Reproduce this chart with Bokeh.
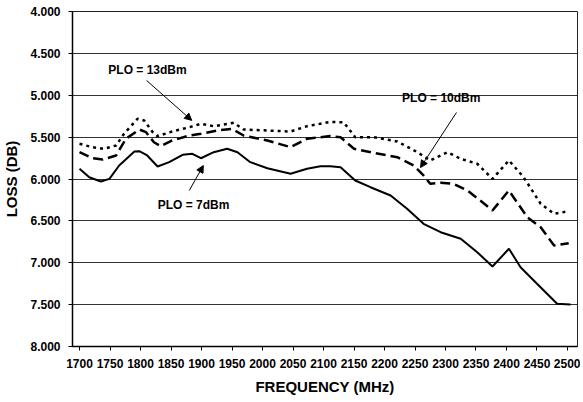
from bokeh.plotting import figure
from bokeh.models import Range1d, FixedTicker, NumeralTickFormatter, Arrow, NormalHead, Label
from bokeh.embed import file_html
from bokeh.resources import INLINE

# PLO = 7 dBm (solid)
f7 = [1700, 1716, 1735, 1749, 1765, 1790, 1798, 1811, 1828, 1847, 1869, 1885, 1899, 1920, 1942, 1959, 1980,
      2008, 2046, 2073, 2095, 2111, 2128, 2152, 2177, 2210, 2237, 2264, 2292, 2325, 2352, 2377, 2404, 2423,
      2450, 2483, 2505]
l7 = [5.878, 5.979, 6.030, 5.998, 5.839, 5.672, 5.668, 5.719, 5.851, 5.799, 5.711, 5.699, 5.752, 5.680, 5.639,
      5.680, 5.799, 5.871, 5.938, 5.878, 5.847, 5.847, 5.859, 6.018, 6.098, 6.197, 6.356, 6.535, 6.635, 6.714,
      6.874, 7.045, 6.833, 7.053, 7.251, 7.490, 7.499]
# PLO = 10 dBm (dashed)
f10 = [1700, 1721, 1738, 1760, 1776, 1798, 1809, 1822, 1833, 1852, 1880, 1899, 1926, 1950, 1969, 2008, 2046,
       2073, 2111, 2128, 2150, 2182, 2221, 2248, 2264, 2275, 2292, 2313, 2336, 2357, 2377, 2404, 2434, 2456,
       2478, 2502]
l10 = [5.680, 5.752, 5.767, 5.719, 5.520, 5.409, 5.441, 5.561, 5.608, 5.540, 5.481, 5.460, 5.421, 5.401, 5.481,
       5.540, 5.620, 5.520, 5.487, 5.501, 5.639, 5.687, 5.740, 5.839, 5.958, 6.057, 6.045, 6.057, 6.137, 6.257,
       6.376, 6.137, 6.456, 6.576, 6.794, 6.767]
# PLO = 13 dBm (dotted)
f13 = [1700, 1721, 1740, 1760, 1773, 1795, 1806, 1820, 1828, 1852, 1880, 1899, 1920, 1953, 1969, 2008, 2046,
       2073, 2111, 2133, 2152, 2182, 2221, 2254, 2275, 2303, 2325, 2352, 2377, 2404, 2428, 2456, 2478, 2502]
l13 = [5.580, 5.620, 5.639, 5.600, 5.460, 5.281, 5.301, 5.441, 5.489, 5.433, 5.382, 5.341, 5.370, 5.329, 5.409,
       5.421, 5.433, 5.370, 5.319, 5.322, 5.501, 5.501, 5.552, 5.680, 5.779, 5.680, 5.759, 5.818, 5.998, 5.779,
       5.978, 6.296, 6.416, 6.385]

x_ticks = list(range(1700, 2501, 50))
y_ticks = [4.0, 4.5, 5.0, 5.5, 6.0, 6.5, 7.0, 7.5, 8.0]

FONT = "Liberation Sans"

p = figure(width=580, height=398, output_backend="svg", toolbar_location=None,
           x_range=Range1d(1688.5, 2516.4), y_range=Range1d(8.0, 4.0),
           min_border_left=72, min_border_right=3, min_border_top=11, min_border_bottom=52)
p.background_fill_color = "white"
p.border_fill_color = "white"
p.outline_line_color = "#222222"
p.outline_line_width = 1

p.xgrid.grid_line_color = None
p.ygrid.grid_line_color = "#333333"
p.ygrid.grid_line_width = 1

p.xaxis.ticker = FixedTicker(ticks=x_ticks)
p.yaxis.ticker = FixedTicker(ticks=y_ticks)
p.yaxis.formatter = NumeralTickFormatter(format="0.000")

for ax in (p.xaxis[0], p.yaxis[0]):
    ax.axis_line_color = "black"
    ax.axis_line_width = 1.5
    ax.major_tick_line_color = "black"
    ax.major_tick_in = 0
    ax.major_tick_out = 4
    ax.minor_tick_line_color = None
    ax.major_label_text_font = FONT
    ax.major_label_text_font_style = "bold"
    ax.major_label_text_font_size = "12px"
    ax.major_label_text_color = "black"
    ax.axis_label_text_font = FONT
    ax.axis_label_text_font_style = "bold"
    ax.axis_label_text_font_size = "15px"
    ax.axis_label_text_color = "black"

p.xaxis.major_label_standoff = 8
p.yaxis.major_label_standoff = 8
p.xaxis.axis_label = "FREQUENCY (MHz)"
p.yaxis.axis_label = "LOSS (DB)"
p.xaxis.axis_label_standoff = 7
p.yaxis.axis_label_standoff = 7

p.line(f7, l7, line_color="black", line_width=2)
p.line(f10, l10, line_color="black", line_width=2.5, line_dash="10 5")
p.line(f13, l13, line_color="black", line_width=2.5, line_dash="3 4")

def note(text, x, y):
    p.add_layout(Label(x=x, y=y, text=text, text_font=FONT, text_font_style="bold",
                       text_font_size="12px", text_align="center", text_baseline="middle",
                       text_color="black"))

def arrow(x0, y0, x1, y1):
    p.add_layout(Arrow(x_start=x0, y_start=y0, x_end=x1, y_end=y1, line_width=1,
                       line_color="black",
                       end=NormalHead(size=7, fill_color="black", line_color="black")))

note("PLO = 13dBm", 1811.5, 4.70)
arrow(1810, 4.824, 1884, 5.30)
note("PLO = 7dBm", 1887, 6.316)
arrow(1880, 6.137, 1903, 5.839)
note("PLO = 10dBm", 2293, 5.027)
arrow(2318, 5.206, 2259, 5.863)

open("out.html", "w").write(file_html(p, INLINE))
